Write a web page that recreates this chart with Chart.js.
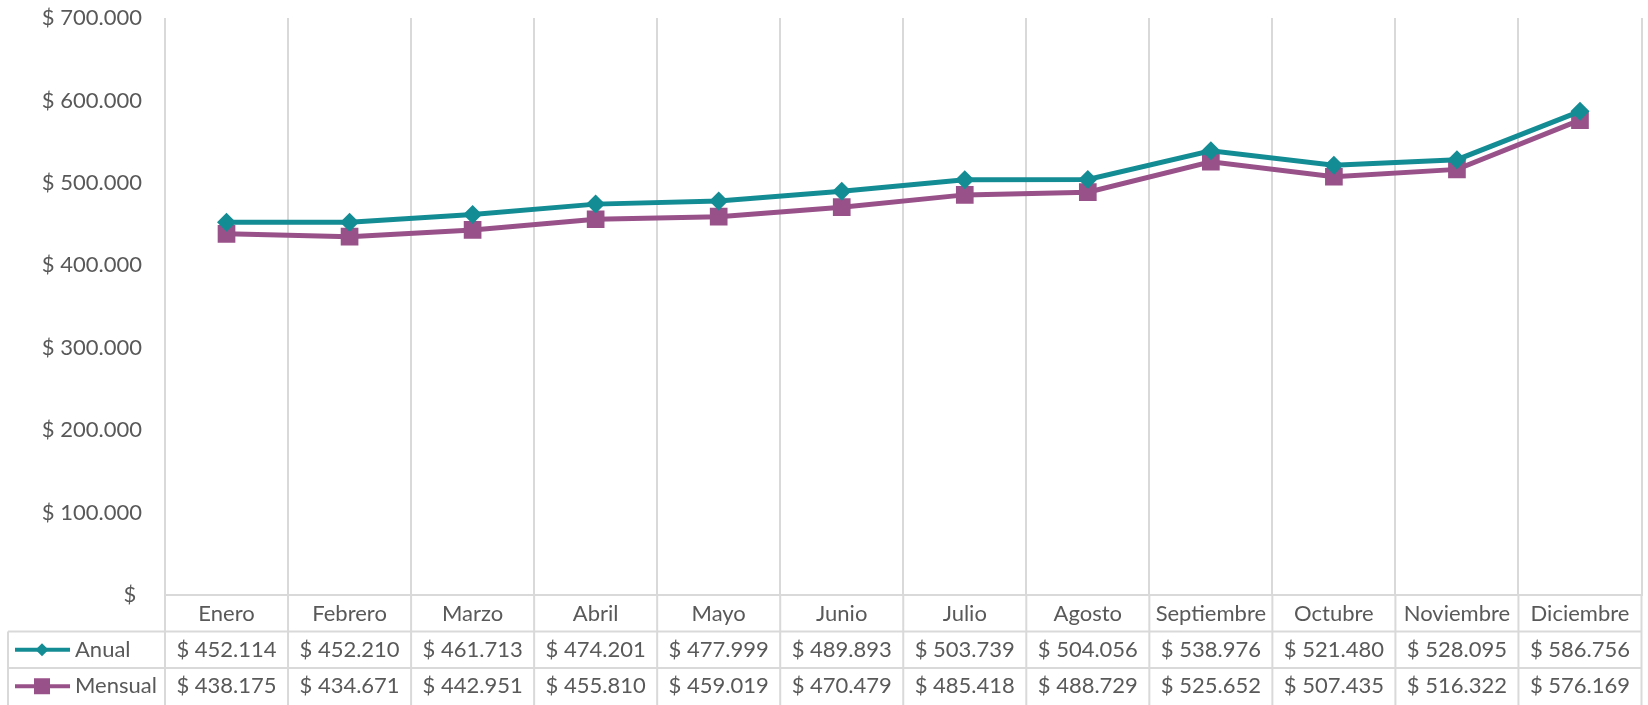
<!DOCTYPE html>
<html>
<head>
<meta charset="utf-8">
<script src="https://cdn.jsdelivr.net/npm/chart.js@4.4.1/dist/chart.umd.min.js"></script>
<style>
    html, body { margin: 0; padding: 0; background: #fff; overflow: hidden; }
    #wrap { position: relative; width: 1654px; height: 705px; }
</style>
</head>
<body>
<div id="wrap"><canvas id="chart"></canvas></div>
<script>
const months = ['Enero', 'Febrero', 'Marzo', 'Abril', 'Mayo', 'Junio', 'Julio', 'Agosto', 'Septiembre', 'Octubre', 'Noviembre', 'Diciembre'];
const anual = [452114, 452210, 461713, 474201, 477999, 489893, 503739, 504056, 538976, 521480, 528095, 586756];
const mensual = [438175, 434671, 442951, 455810, 459019, 470479, 485418, 488729, 525652, 507435, 516322, 576169];
const yMin = 0;
const yMax = 700000;
const yStep = 100000;

const TEAL = '#148C94';
const PURPLE = '#985189';
const GRID = '#d9d9d9';
const TEXT = '#595959';
const FONT = { family: 'Lato', size: 22 };

// 452114 -> "$ 452.114"
function money(v) {
    if (v === 0) return '$ ';
    return '$ ' + String(Math.round(v)).replace(/\B(?=(\d{3})+(?!\d))/g, '.');
}

const series = [
    { label: 'Anual', data: anual, color: TEAL, marker: 'diamond' },
    { label: 'Mensual', data: mensual, color: PURPLE, marker: 'square' }
];

function drawMarker(ctx, type, x, y, color, w, h) {
    ctx.fillStyle = color;
    ctx.beginPath();
    if (type === 'diamond') {
        ctx.moveTo(x - w / 2, y);
        ctx.lineTo(x, y - h / 2);
        ctx.lineTo(x + w / 2, y);
        ctx.lineTo(x, y + h / 2);
        ctx.closePath();
    } else {
        ctx.rect(x - w / 2, y - h / 2, w, h);
    }
    ctx.fill();
}

// Excel style data table under the plot
const dataTable = {
    id: 'dataTable',
    afterDraw(chart) {
        const { ctx, chartArea, scales: { x } } = chart;
        const n = months.length;
        const colW = chartArea.width / n;
        const rowH = 36.5;
        const top = chartArea.bottom;
        const bottom = chart.height;
        const keyLeft = 8;
        const rows = [top + rowH, top + rowH * 2];

        ctx.save();
        ctx.strokeStyle = GRID;
        ctx.lineWidth = 2;
        ctx.beginPath();
        for (let i = 0; i <= n; i++) {
            const bx = chartArea.left + i * colW;
            ctx.moveTo(bx, top);
            ctx.lineTo(bx, bottom);
        }
        rows.forEach(ry => {
            ctx.moveTo(keyLeft, ry);
            ctx.lineTo(chartArea.right, ry);
        });
        ctx.moveTo(keyLeft, rows[0]);
        ctx.lineTo(keyLeft, bottom);
        ctx.stroke();

        ctx.font = `${FONT.size}px ${FONT.family}`;
        ctx.textBaseline = 'middle';
        series.forEach((s, k) => {
            const cy = rows[k] + rowH / 2;
            ctx.fillStyle = TEXT;
            ctx.textAlign = 'center';
            s.data.forEach((v, i) => {
                ctx.fillText(money(v), x.getPixelForValue(i), cy);
            });
            // legend key
            ctx.strokeStyle = s.color;
            ctx.lineWidth = 4;
            ctx.beginPath();
            ctx.moveTo(keyLeft + 7, cy);
            ctx.lineTo(keyLeft + 62, cy);
            ctx.stroke();
            if (s.marker === 'diamond') {
                drawMarker(ctx, 'diamond', keyLeft + 34, cy, s.color, 13, 13);
            } else {
                drawMarker(ctx, 'square', keyLeft + 34, cy, s.color, 16, 16);
            }
            ctx.fillStyle = TEXT;
            ctx.textAlign = 'left';
            ctx.fillText(s.label, keyLeft + 67, cy);
        });
        ctx.restore();
    }
};

Chart.defaults.font.family = FONT.family;
Chart.defaults.font.size = FONT.size;
Chart.defaults.color = TEXT;

new Chart(document.getElementById('chart'), {
    type: 'line',
    data: {
        labels: months,
        datasets: [
            {
                label: 'Anual',
                data: anual,
                borderColor: TEAL,
                backgroundColor: TEAL,
                borderWidth: 5,
                pointStyle: 'rectRot',
                pointRadius: 9.5,
                pointBorderWidth: 0,
                tension: 0
            },
            {
                label: 'Mensual',
                data: mensual,
                borderColor: PURPLE,
                backgroundColor: PURPLE,
                borderWidth: 5,
                pointStyle: 'rect',
                pointRadius: 12.5,
                pointBorderWidth: 0,
                tension: 0
            }
        ]
    },
    options: {
        responsive: true,
        maintainAspectRatio: false,
        animation: false,
        layout: { padding: { top: 18, left: 0, right: 0, bottom: 0 } },
        plugins: {
            legend: { display: false },
            tooltip: { enabled: false }
        },
        scales: {
            x: {
                offset: true,
                grid: { offset: true, color: GRID, lineWidth: 2, drawTicks: false },
                border: { display: true, color: GRID, width: 2 },
                ticks: { color: TEXT, padding: 6, maxRotation: 0, autoSkip: false },
                afterFit: s => { s.height = 110; }
            },
            y: {
                min: yMin,
                max: yMax,
                ticks: {
                    stepSize: yStep,
                    color: TEXT,
                    padding: 15,
                    callback: v => money(v)
                },
                grid: { display: false },
                border: { display: false },
                afterFit: s => {
                    s.width = 165;
                    s.paddingTop = 0;
                    s.paddingBottom = 0;
                }
            }
        }
    },
    plugins: [dataTable]
});
</script>
</body>
</html>
